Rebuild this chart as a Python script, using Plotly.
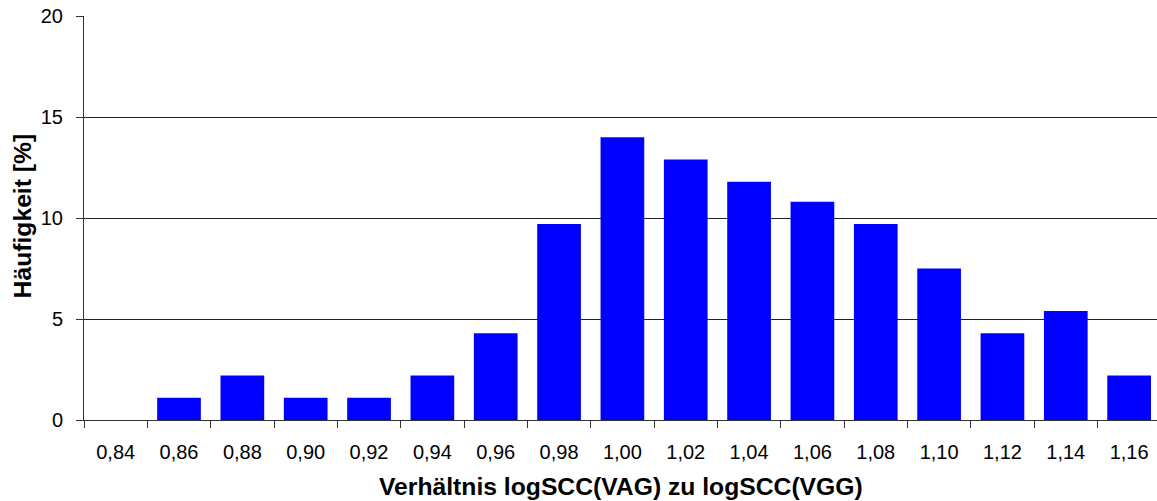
import plotly.graph_objects as go

categories = ["0,84", "0,86", "0,88", "0,90", "0,92", "0,94", "0,96", "0,98", "1,00",
              "1,02", "1,04", "1,06", "1,08", "1,10", "1,12", "1,14", "1,16"]
values = [0, 1.1, 2.2, 1.1, 1.1, 2.2, 4.3, 9.7, 14.0, 12.9, 11.8, 10.8, 9.7, 7.5, 4.3, 5.4, 2.2]

x_title = "Verhältnis logSCC(VAG) zu logSCC(VGG)"
y_title = "Häufigkeit [%]"

fig = go.Figure(go.Bar(x=categories, y=values, marker=dict(color="#0000FF", line=dict(width=0))))

font = "Liberation Sans, Arial, sans-serif"
fig.update_layout(
    width=1157, height=501,
    margin=dict(l=84, r=0, t=16, b=81, autoexpand=False),
    plot_bgcolor="white", paper_bgcolor="white",
    bargap=0.31,
    showlegend=False,
    font=dict(family=font, size=20, color="black"),
)
fig.update_xaxes(
    type="category",
    range=[-0.5, 16.44],
    tickson="boundaries",
    ticks="outside", ticklen=7, tickcolor="#333333", tickwidth=1,
    showline=True, linecolor="#333333", linewidth=1,
    showgrid=False,
    tickfont=dict(size=20),
    ticklabelstandoff=14,
    automargin=False,
)
fig.update_yaxes(
    range=[0, 20], dtick=5, tick0=0,
    ticks="outside", ticklen=7, tickcolor="#333333", tickwidth=1,
    showline=True, linecolor="#333333", linewidth=1,
    showgrid=True, gridcolor="#222222", gridwidth=1,
    zeroline=False,
    tickfont=dict(size=20),
    ticklabelstandoff=9,
    automargin=False,
)
fig.add_annotation(
    text="<b>" + x_title + "</b>", xref="paper", yref="paper", x=0.5, y=0,
    xanchor="center", yanchor="top", yshift=-51, showarrow=False,
    font=dict(size=24.7, family=font, color="black"),
)
fig.add_annotation(
    text="<b>" + y_title + "</b>", xref="paper", yref="paper", x=0, y=0.504,
    xanchor="center", yanchor="middle", xshift=-62, textangle=-90, showarrow=False,
    font=dict(size=24.7, family=font, color="black"),
)

fig.write_html("out.html", config={"displayModeBar": False},
               post_script="document.body.style.margin='0';")
